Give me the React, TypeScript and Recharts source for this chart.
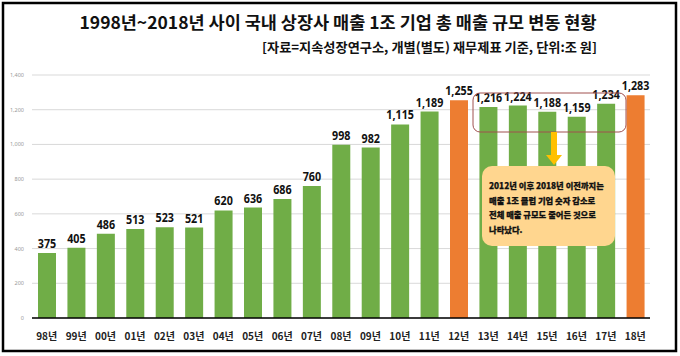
import React from 'react';
import { BarChart, Bar, XAxis, YAxis, CartesianGrid, LabelList, Cell } from 'recharts';

const years = ['98년', '99년', '00년', '01년', '02년', '03년', '04년', '05년', '06년', '07년', '08년', '09년', '10년', '11년', '12년', '13년', '14년', '15년', '16년', '17년', '18년'];
const revenue = [375, 405, 486, 513, 523, 521, 620, 636, 686, 760, 998, 982, 1115, 1189, 1255, 1216, 1224, 1188, 1159, 1234, 1283];
const highlightYears = ['12년', '18년'];
const yTicks = [0, 200, 400, 600, 800, 1000, 1200, 1400];

const title = '1998년~2018년 사이 국내 상장사 매출 1조 기업 총 매출 규모 변동 현황';
const subtitle = '[자료=지속성장연구소, 개별(별도) 재무제표 기준, 단위:조 원]';
const noteLines = ['2012년 이후 2018년 이전까지는', '매출 1조 클럽 기업 숫자 감소로', '전체 매출 규모도 줄어든 것으로', '나타났다.'];

const data = years.map((y, i) => ({ year: y, value: revenue[i] }));

const GREEN = '#70AD47';
const ORANGE = '#ED7D31';
const KR = '"Noto Sans CJK KR", "Noto Sans", sans-serif';

const XTick = (props: any) => {
  const { x, y, payload } = props;
  return (
    <text x={x} y={y + 14} textAnchor="middle" fontSize={10} fontWeight="bold" fill="#222" fontFamily={KR}>
      {payload.value}
    </text>
  );
};

const ValueLabel = (props: any) => {
  const { x, y, width, value } = props;
  const cx = x + width / 2;
  return (
    <text
      transform={`translate(${cx},${y - 5}) scale(0.86,1)`}
      x={0}
      y={0}
      textAnchor="middle"
      fontSize={12.5}
      fontWeight="bold"
      fill="#111"
      fontFamily="Noto Sans"
    >
      {Number(value).toLocaleString('en-US')}
    </text>
  );
};

export default function App() {
  return (
    <div style={{ position: 'absolute', left: 0, top: 0, width: 680, height: 356, background: '#fff' }}>
      <BarChart width={680} height={356} data={data} margin={{ top: 75, right: 30, left: 0, bottom: 8 }}>
        <CartesianGrid vertical={false} stroke="#D9D9D9" />
        <YAxis
          width={32}
          domain={[0, 1400]}
          ticks={yTicks}
          axisLine={false}
          tickLine={false}
          tick={{ fontSize: 5.5, fill: '#999', fontFamily: 'Noto Sans' }}
          tickFormatter={(v: number) => v.toLocaleString('en-US')}
        />
        <XAxis
          dataKey="year"
          height={30}
          axisLine={{ stroke: '#000', strokeWidth: 1.5 }}
          tickLine={false}
          tick={<XTick />}
          interval={0}
        />
        <Bar dataKey="value" barSize={18} isAnimationActive={false}>
          {data.map((d) => (
            <Cell key={d.year} fill={highlightYears.includes(d.year) ? ORANGE : GREEN} />
          ))}
          <LabelList dataKey="value" content={<ValueLabel />} />
        </Bar>
      </BarChart>
      <svg width={680} height={356} style={{ position: 'absolute', left: 0, top: 0, pointerEvents: 'none' }}>
        <rect x={3} y={3} width={673} height={348} fill="none" stroke="#000" strokeWidth={2.5} />
        <text x={338} y={29} textAnchor="middle" fontSize={17} fontWeight="bold" fill="#111" fontFamily={KR} textLength={517} lengthAdjust="spacingAndGlyphs">
          {title}
        </text>
        <text x={597} y={52} textAnchor="end" fontSize={13} fontWeight="bold" fill="#111" fontFamily={KR} textLength={335} lengthAdjust="spacingAndGlyphs">
          {subtitle}
        </text>
        <rect x={473} y={93} width={153} height={39} rx={7} fill="none" stroke="#A0504F" strokeWidth={1} />
        <rect x={551} y={132} width={6} height={24} fill="#FFC000" />
        <polygon points="546,155 562,155 554,165" fill="#FFC000" />
        <rect x={482} y={166} width={133} height={80} rx={10} fill="#FFD68F" />
        {noteLines.map((line, i) => (
          <text key={i} x={489} y={189 + i * 14.7} fontSize={8.3} fontWeight={900} fill="#111" fontFamily={KR} stroke="#111" strokeWidth={0.25}>
            {line}
          </text>
        ))}
      </svg>
    </div>
  );
}
